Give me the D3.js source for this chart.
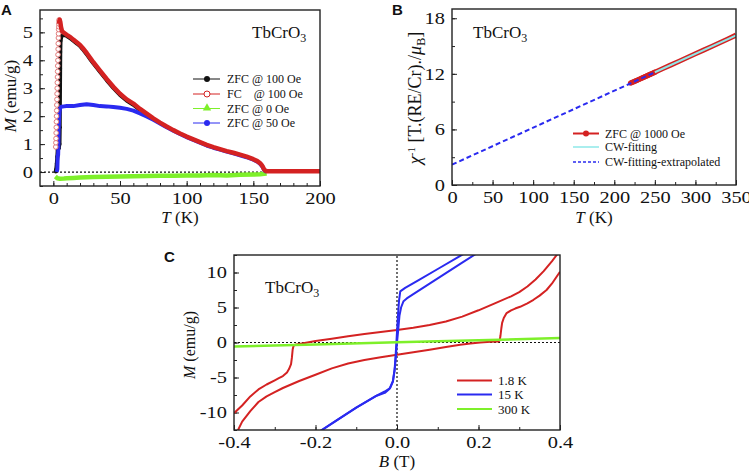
<!DOCTYPE html>
<meta charset="utf-8">
<head>
<title>TbCrO3 magnetization</title>
<script src="https://cdn.jsdelivr.net/npm/d3@7"></script>
<style>
  body { margin: 0; background: #fff; }
  text { font-family: "Liberation Serif", "Times New Roman", serif; fill: #111; }
  .plabel { font-family: "Liberation Sans", Arial, sans-serif; font-weight: bold; font-size: 15px; }
  .tick text { font-family: "Liberation Serif", "Times New Roman", serif; }
</style>
</head>
<body>
<svg id="fig" width="749" height="472"></svg>
<script>
// ---------- panel A : M(T) ----------
var fcLowT = [1.8,1.9,2.0,2.1,2.2,2.3,2.4,2.5,2.6,2.7,2.8,2.9,3.0,3.1,3.2,3.3,3.4,3.5,3.6,3.7,3.8,3.9,4.0,4.1,4.2,4.3,4.4];
var fcLowM = [0.9,1.05,1.2,1.4,1.6,1.8,2.0,2.2,2.4,2.6,2.8,3.0,3.2,3.4,3.6,3.8,4.0,4.2,4.4,4.6,4.8,4.95,5.1,5.2,5.3,5.4,5.45];
var fcT = [4.2,4.7,5.2,5.8,6.5,7.5,9,11,13,15,18,20,22,25,28,30,35,40,45,50,55,60,65,70,75,80,85,90,95,100,105,110,115,120,125,130,135,140,145,150,153,155,156,157,158,159,160,170,180,190,200];
var fcM = [5.3,5.45,5.38,5.18,5.05,5.0,4.95,4.88,4.82,4.74,4.63,4.55,4.44,4.26,4.06,3.93,3.63,3.33,3.05,2.8,2.6,2.45,2.26,2.09,1.92,1.77,1.63,1.5,1.38,1.27,1.17,1.07,0.97,0.89,0.82,0.75,0.69,0.62,0.55,0.46,0.39,0.32,0.27,0.2,0.1,0.05,0.03,0.03,0.03,0.03,0.03];
var zfc100T = [1.8,2.2,2.6,3.0,3.3,3.6,4.0,4.6,4.8,4.9,5.0,5.1,5.2,5.4,6,7,9,11,13,15,18,20,22,25,28,30,35,40,45,50,55,60,65];
var zfc100M = [0.02,0.1,0.3,0.55,0.8,0.82,0.85,1.0,1.6,2.3,3.0,3.7,4.3,4.7,4.85,4.9,4.9,4.84,4.78,4.7,4.59,4.51,4.4,4.22,4.02,3.89,3.59,3.29,3.01,2.76,2.56,2.41,2.22];
var zfc50T = [2.5,3.0,3.3,3.6,3.8,4.0,4.3,4.6,5.0,5.5,6,8,10,15,20,25,30,35,40,45,50,55,60,65,70,75,80,85,90,95,100,105,110,115,120,125,130,135,140,145,150,153,155,157,158,159,160];
var zfc50M = [0.0,0.1,0.6,0.6,1.0,1.5,1.9,2.15,2.27,2.32,2.34,2.35,2.36,2.36,2.4,2.43,2.4,2.36,2.35,2.33,2.3,2.26,2.2,2.1,1.99,1.87,1.74,1.6,1.48,1.36,1.25,1.15,1.05,0.95,0.87,0.8,0.73,0.67,0.6,0.53,0.44,0.37,0.3,0.18,0.08,0.03,0.01];
var zfc0T = [1.5,3,5,8,10,15,20,30,40,50,60,70,80,90,100,110,120,130,140,150,155,158,160];
var zfc0M = [-0.16,-0.22,-0.24,-0.23,-0.22,-0.21,-0.2,-0.18,-0.17,-0.16,-0.15,-0.14,-0.13,-0.13,-0.12,-0.12,-0.11,-0.12,-0.1,-0.09,-0.08,-0.06,-0.05];
var legendA = ["ZFC @ 100 Oe", "FC    @ 100 Oe", "ZFC @ 0 Oe", "ZFC @ 50 Oe"];
var aXTicks = [0,50,100,150,200], aYTicks = [0,1,2,3,4,5];

// ---------- panel B : inverse susceptibility ----------
var invT = [220,222,224,226,228,230,232,234,236,238,240,242,244,246,248,250,260,270,280,290,300,310,320,330,340,350];
var invChi = [11.0,11.08,11.15,11.23,11.3,11.38,11.46,11.54,11.62,11.7,11.78,11.86,11.94,12.02,12.1,12.18,12.57,12.97,13.37,13.77,14.17,14.56,14.96,15.36,15.76,16.18];
var fitT = [250,350], fitChi = [12.17,16.15];
var extT = [0,250], extChi = [2.2,12.17];
var legendB = ["ZFC @ 1000 Oe", "CW-fitting", "CW-fitting-extrapolated"];
var bXTicks = [0,50,100,150,200,250,300,350], bYTicks = [0,6,12,18];

// ---------- panel C : M(B) loops ----------
var red1B = [0.40,0.392,0.38,0.36,0.34,0.32,0.30,0.28,0.24,0.20,0.16,0.12,0.08,0.04,0.0,-0.04,-0.08,-0.12,-0.16,-0.20,-0.22,-0.24,-0.25,-0.254,-0.256,-0.258,-0.26,-0.265,-0.27,-0.28,-0.29,-0.30,-0.32,-0.34,-0.36,-0.38,-0.40];
var red1M = [13.3,12.5,11.6,10.2,9.0,8.0,7.2,6.6,5.6,4.6,3.7,3.0,2.5,2.1,1.8,1.5,1.2,0.88,0.55,0.2,0.0,-0.2,-0.33,-0.5,-1.0,-2.2,-3.1,-3.8,-4.3,-4.8,-5.1,-5.4,-6.0,-6.7,-7.7,-9.0,-10.1];
var red2B = [-0.40,-0.39,-0.38,-0.36,-0.34,-0.32,-0.30,-0.28,-0.24,-0.20,-0.16,-0.12,-0.08,-0.04,0.0,0.04,0.08,0.12,0.155,0.18,0.204,0.23,0.249,0.252,0.254,0.256,0.258,0.262,0.269,0.28,0.29,0.302,0.32,0.335,0.35,0.367,0.38,0.40];
var red2M = [-13.3,-12.5,-11.3,-9.8,-8.5,-7.7,-7.1,-6.5,-5.5,-4.6,-3.7,-3.0,-2.5,-2.1,-1.76,-1.4,-1.02,-0.65,-0.33,-0.15,0.0,0.1,0.15,0.3,1.0,2.0,2.8,3.5,4.2,4.6,4.85,5.1,5.6,6.1,6.7,7.5,8.4,10.1];
var blue1B = [0.20,0.15,0.10,0.05,0.02,0.008,0.005,0.002,0.0,-0.003,-0.006,-0.01,-0.018,-0.03,-0.05,-0.10,-0.15,-0.20];
var blue1M = [13.9,12.2,10.5,8.8,7.8,7.3,6.0,3.5,1.5,-1.5,-4.0,-5.5,-6.6,-7.2,-7.6,-9.3,-11.2,-13.1];
var blue2B = [-0.20,-0.15,-0.10,-0.05,-0.03,-0.017,-0.01,-0.005,-0.002,0.0,0.003,0.006,0.01,0.016,0.024,0.04,0.08,0.12,0.16,0.20];
var blue2M = [-13.1,-11.2,-9.3,-7.6,-7.0,-6.5,-5.6,-3.5,-1.5,0.0,1.8,3.8,5.0,5.9,6.3,6.9,8.4,9.9,11.4,12.9];
var greenB = [-0.4,-0.2,0.0,0.2,0.4];
var greenM = [-0.57,-0.28,0.02,0.32,0.63];
var legendC = ["1.8 K", "15 K", "300 K"];
var cXTicks = [-0.4,-0.2,0.0,0.2,0.4], cXLabels = ["-0.4","-0.2","0.0","0.2","0.4"];
var cYTicks = [-10,-5,0,5,10], cYLabels = ["-10","-5","0","5","10"];

var svg = d3.select("#fig");
var red = "#d42222", blue = "#2a2af0", green = "#7ef02a", cyan = "#8ee8e8";

function zip(a, b) { return a.map(function(d, i) { return [d, b[i]]; }); }

// draws frame + inward ticks, returns scales and clipped group
function panel(id, box, xDom, yDom, xMaj, xMin, yMaj, yMin, xLab, yLab, fs) {
  var x = d3.scaleLinear().domain(xDom).range([box.x, box.x + box.w]);
  var y = d3.scaleLinear().domain(yDom).range([box.y + box.h, box.y]);
  svg.append("clipPath").attr("id", "clip" + id).append("rect")
     .attr("x", box.x).attr("y", box.y).attr("width", box.w).attr("height", box.h);
  var xa = d3.axisBottom(x).tickValues(xMaj).tickSize(-5).tickPadding(6)
     .tickFormat(function(d, i) { return xLab[i]; });
  var xm = d3.axisBottom(x).tickValues(xMin).tickSize(-3).tickFormat("");
  var ya = d3.axisLeft(y).tickValues(yMaj).tickSize(-5).tickPadding(7)
     .tickFormat(function(d, i) { return yLab[i]; });
  var ym = d3.axisLeft(y).tickValues(yMin).tickSize(-3).tickFormat("");
  [[xa, "x"], [xm, "x"], [ya, "y"], [ym, "y"]].forEach(function(p) {
    var g = svg.append("g")
      .attr("transform", p[1] == "x" ? "translate(0," + (box.y + box.h) + ")" : "translate(" + box.x + ",0)")
      .call(p[0]);
    g.select(".domain").remove();
    g.selectAll("line").attr("stroke", "#222").attr("stroke-width", 1);
    g.selectAll("text").attr("font-size", fs).attr("fill", "#111")
      .each(function() {   // tick labels in the figure are a bit wider than plain Times
        var w = this.getComputedTextLength();
        if (w > 0) d3.select(this).attr("textLength", w * 1.2).attr("lengthAdjust", "spacingAndGlyphs");
      });
  });
  var plot = svg.append("g").attr("clip-path", "url(#clip" + id + ")");
  svg.append("rect").attr("x", box.x).attr("y", box.y).attr("width", box.w).attr("height", box.h)
     .attr("fill", "none").attr("stroke", "#222").attr("stroke-width", 1.4);
  return {x: x, y: y, g: plot};
}

function drawLine(P, xs, ys, color, w, dash) {
  var line = d3.line().x(function(d) { return P.x(d[0]); }).y(function(d) { return P.y(d[1]); });
  return P.g.append("path").datum(zip(xs, ys)).attr("d", line)
     .attr("fill", "none").attr("stroke", color).attr("stroke-width", w)
     .attr("stroke-linejoin", "round").attr("stroke-dasharray", dash || null);
}

// ================= A =================
var A = panel("A", {x: 40, y: 10, w: 280, h: 176}, [-10, 200], [-0.5, 5.8],
  aXTicks, d3.range(0, 201, 10), aYTicks, d3.range(-0.5, 5.8, 0.5),
  aXTicks.map(String), aYTicks.map(String), "17px");

A.g.append("line").attr("x1", A.x(-10)).attr("x2", A.x(200)).attr("y1", A.y(0)).attr("y2", A.y(0))
   .attr("stroke", "#111").attr("stroke-width", 1.2).attr("stroke-dasharray", "2,2");
drawLine(A, zfc0T, zfc0M, green, 4.5);
drawLine(A, zfc100T, zfc100M, "#111", 4);
A.g.selectAll(".zfcdot").data(zip(zfc100T.slice(0, 14), zfc100M.slice(0, 14))).enter()
   .append("circle").attr("cx", function(d) { return A.x(d[0]); }).attr("cy", function(d) { return A.y(d[1]); })
   .attr("r", 2).attr("fill", "#111");
drawLine(A, zfc50T, zfc50M, blue, 4);
A.g.selectAll(".fclow").data(zip(fcLowT, fcLowM)).enter()
   .append("circle").attr("cx", function(d) { return A.x(d[0]); }).attr("cy", function(d) { return A.y(d[1]); })
   .attr("r", 2.3).attr("fill", "#fff").attr("stroke", "#e27b7b").attr("stroke-width", 1);
drawLine(A, fcT, fcM, red, 4.5);

svg.append("text").attr("x", 252).attr("y", 38).attr("font-size", "17px")
   .html('TbCrO<tspan dy="4" font-size="12px">3</tspan>');

var legA = svg.append("g");
var legAy = [79, 94, 108.5, 123], legAc = ["#111", red, green, blue];
legendA.forEach(function(t, i) {
  legA.append("line").attr("x1", 193).attr("x2", 220).attr("y1", legAy[i]).attr("y2", legAy[i])
      .attr("stroke", legAc[i]).attr("stroke-width", 1);
  if (i == 0) legA.append("circle").attr("cx", 207).attr("cy", legAy[i]).attr("r", 3).attr("fill", "#111");
  if (i == 1) legA.append("circle").attr("cx", 207).attr("cy", legAy[i]).attr("r", 3).attr("fill", "#fff").attr("stroke", red);
  if (i == 2) legA.append("path").attr("d", d3.symbol(d3.symbolTriangle, 30)())
      .attr("transform", "translate(207," + (legAy[i] - 0.5) + ")").attr("fill", green);
  if (i == 3) legA.append("circle").attr("cx", 207).attr("cy", legAy[i]).attr("r", 3).attr("fill", blue);
  legA.append("text").attr("x", 227).attr("y", legAy[i] + 4).attr("font-size", "12px")
      .attr("xml:space", "preserve").style("white-space", "pre").text(t);
});

svg.append("text").attr("transform", "translate(16,96) rotate(-90)").attr("text-anchor", "middle")
   .attr("font-size", "17px").html('<tspan font-style="italic">M</tspan> (emu/g)');
svg.append("text").attr("x", 180).attr("y", 223).attr("text-anchor", "middle")
   .attr("font-size", "17px").html('<tspan font-style="italic">T</tspan> (K)');
svg.append("text").attr("class", "plabel").attr("x", 1).attr("y", 15).text("A");

// ================= B =================
var B = panel("B", {x: 452, y: 9, w: 284, h: 176}, [0, 350], [0, 19],
  bXTicks, d3.range(0, 351, 25), bYTicks, d3.range(0, 19, 3),
  bXTicks.map(String), bYTicks.map(String), "17px");

drawLine(B, invT, invChi, red, 5);
B.g.selectAll(".inv").data(zip(invT.slice(0, 16), invChi.slice(0, 16))).enter()
   .append("circle").attr("cx", function(d) { return B.x(d[0]); }).attr("cy", function(d) { return B.y(d[1]); })
   .attr("r", 2.6).attr("fill", red);
drawLine(B, fitT, fitChi, cyan, 2);
drawLine(B, extT, extChi, blue, 2, "5,3");

svg.append("text").attr("x", 473).attr("y", 38).attr("font-size", "17px")
   .html('TbCrO<tspan dy="4" font-size="12px">3</tspan>');

var legBy = [133.5, 147, 162];
var legB = svg.append("g");
legB.append("line").attr("x1", 573).attr("x2", 599).attr("y1", legBy[0]).attr("y2", legBy[0]).attr("stroke", red).attr("stroke-width", 2);
legB.append("circle").attr("cx", 586).attr("cy", legBy[0]).attr("r", 3).attr("fill", red);
legB.append("line").attr("x1", 573).attr("x2", 599).attr("y1", legBy[1]).attr("y2", legBy[1]).attr("stroke", cyan).attr("stroke-width", 1.5);
legB.append("line").attr("x1", 573).attr("x2", 599).attr("y1", legBy[2]).attr("y2", legBy[2]).attr("stroke", blue).attr("stroke-width", 1.5).attr("stroke-dasharray", "3,2");
legendB.forEach(function(t, i) {
  legB.append("text").attr("x", 605).attr("y", legBy[i] + 4).attr("font-size", "12px").text(t);
});

svg.append("text").attr("transform", "translate(421,98) rotate(-90)").attr("text-anchor", "middle")
   .attr("font-size", "18px")
   .html('<tspan font-style="italic">χ</tspan><tspan dy="-6" font-size="11px">-1</tspan><tspan dy="6"> [T.(RE/Cr)./</tspan><tspan font-style="italic">μ</tspan><tspan dy="4" font-size="12px">B</tspan><tspan dy="-4">]</tspan>');
svg.append("text").attr("x", 594).attr("y", 223).attr("text-anchor", "middle")
   .attr("font-size", "17px").html('<tspan font-style="italic">T</tspan> (K)');
svg.append("text").attr("class", "plabel").attr("x", 392).attr("y", 15).text("B");

// ================= C =================
var C = panel("C", {x: 234, y: 255, w: 326, h: 175}, [-0.4, 0.4], [-12.5, 12.5],
  cXTicks, d3.range(-4, 5).map(function(d) { return d / 10; }), cYTicks, d3.range(-5, 6).map(function(d) { return d * 2.5; }),
  cXLabels, cYLabels, "17px");

C.g.append("line").attr("x1", C.x(-0.4)).attr("x2", C.x(0.4)).attr("y1", C.y(0)).attr("y2", C.y(0))
   .attr("stroke", "#111").attr("stroke-width", 1.2).attr("stroke-dasharray", "2,2");
C.g.append("line").attr("x1", C.x(0)).attr("x2", C.x(0)).attr("y1", C.y(-12.5)).attr("y2", C.y(12.5))
   .attr("stroke", "#111").attr("stroke-width", 1.2).attr("stroke-dasharray", "2,2");
drawLine(C, red1B, red1M, red, 2);
drawLine(C, red2B, red2M, red, 2);
drawLine(C, blue1B, blue1M, blue, 2);
drawLine(C, blue2B, blue2M, blue, 2);
drawLine(C, greenB, greenM, green, 2.5);

svg.append("text").attr("x", 265).attr("y", 293).attr("font-size", "17px")
   .html('TbCrO<tspan dy="4" font-size="12px">3</tspan>');

var legCy = [380.5, 394.5, 409], legCc = [red, blue, green];
legendC.forEach(function(t, i) {
  svg.append("line").attr("x1", 457).attr("x2", 492).attr("y1", legCy[i]).attr("y2", legCy[i])
     .attr("stroke", legCc[i]).attr("stroke-width", 2);
  svg.append("text").attr("x", 498).attr("y", legCy[i] + 4.5).attr("font-size", "13px").text(t);
});

svg.append("text").attr("transform", "translate(195,345) rotate(-90)").attr("text-anchor", "middle")
   .attr("font-size", "16px").html('<tspan font-style="italic">M</tspan> (emu/g)');
svg.append("text").attr("x", 397).attr("y", 467).attr("text-anchor", "middle")
   .attr("font-size", "17px").html('<tspan font-style="italic">B</tspan> (T)');
svg.append("text").attr("class", "plabel").attr("x", 164).attr("y", 262).text("C");
</script>
</body>
</html>
